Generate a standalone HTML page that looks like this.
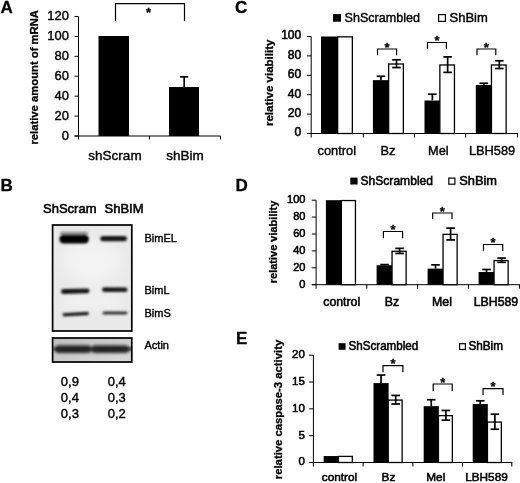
<!DOCTYPE html>
<html><head><meta charset="utf-8"><title>Figure</title>
<style>
html,body{margin:0;padding:0;background:#fff;}
body{width:520px;height:483px;overflow:hidden;}
svg{display:block;}
svg text{font-family:"Liberation Sans",sans-serif;fill:#000;stroke:#000;stroke-width:0.3px;}
svg text.tk{stroke-width:0.55px;}
svg text.ct{stroke-width:0.4px;}
svg text.hv{stroke-width:0.55px;}
</style></head><body>
<svg width="520" height="483" viewBox="0 0 520 483">
<defs>
<filter id="blur1" x="-5%" y="-5%" width="110%" height="110%"><feGaussianBlur stdDeviation="0.4"/></filter>
<filter id="blur2" x="-20%" y="-50%" width="140%" height="200%"><feGaussianBlur stdDeviation="1.1"/></filter>
<clipPath id="actclip"><rect x="52.6" y="338" width="79.2" height="24"/></clipPath>
<filter id="blur3" x="-30%" y="-30%" width="160%" height="160%"><feGaussianBlur stdDeviation="6"/></filter>
<filter id="blur4" x="-20%" y="-100%" width="140%" height="300%"><feGaussianBlur stdDeviation="1.5"/></filter>
<linearGradient id="actbg" x1="0" y1="0" x2="1" y2="1"><stop offset="0" stop-color="#bdbdbd"/><stop offset="1" stop-color="#dadada"/></linearGradient>
<filter id="soft" x="0" y="0" width="100%" height="100%"><feGaussianBlur stdDeviation="0.35"/></filter>
</defs>
<rect width="520" height="483" fill="#fff"/>
<g filter="url(#soft)">
<text x="0.5" y="12.5" font-size="17" text-anchor="start" font-weight="bold" >A</text>
<text x="0.5" y="190.5" font-size="17" text-anchor="start" font-weight="bold" >B</text>
<text x="235" y="12.5" font-size="17" text-anchor="start" font-weight="bold" >C</text>
<text x="235.5" y="190.5" font-size="17" text-anchor="start" font-weight="bold" >D</text>
<text x="236" y="344" font-size="17" text-anchor="start" font-weight="bold" >E</text>
<line x1="78.5" y1="16.5" x2="78.5" y2="139.5" stroke="#000" stroke-width="1"/>
<line x1="74.5" y1="136" x2="220.5" y2="136" stroke="#000" stroke-width="1"/>
<line x1="74.5" y1="136.0" x2="78.5" y2="136.0" stroke="#000" stroke-width="1"/>
<text x="69" y="139.9" font-size="13" text-anchor="end" class="ct">0</text>
<line x1="74.5" y1="116.08" x2="78.5" y2="116.08" stroke="#000" stroke-width="1"/>
<text x="69" y="119.98" font-size="13" text-anchor="end" class="ct">20</text>
<line x1="74.5" y1="96.16" x2="78.5" y2="96.16" stroke="#000" stroke-width="1"/>
<text x="69" y="100.06" font-size="13" text-anchor="end" class="ct">40</text>
<line x1="74.5" y1="76.24" x2="78.5" y2="76.24" stroke="#000" stroke-width="1"/>
<text x="69" y="80.14" font-size="13" text-anchor="end" class="ct">60</text>
<line x1="74.5" y1="56.31999999999999" x2="78.5" y2="56.31999999999999" stroke="#000" stroke-width="1"/>
<text x="69" y="60.21999999999999" font-size="13" text-anchor="end" class="ct">80</text>
<line x1="74.5" y1="36.39999999999999" x2="78.5" y2="36.39999999999999" stroke="#000" stroke-width="1"/>
<text x="69" y="40.29999999999999" font-size="13" text-anchor="end" class="ct">100</text>
<line x1="74.5" y1="16.47999999999999" x2="78.5" y2="16.47999999999999" stroke="#000" stroke-width="1"/>
<text x="69" y="20.37999999999999" font-size="13" text-anchor="end" class="ct">120</text>
<line x1="149.5" y1="136" x2="149.5" y2="139.5" stroke="#000" stroke-width="1"/>
<line x1="220.5" y1="136" x2="220.5" y2="139.5" stroke="#000" stroke-width="1"/>
<rect x="98.5" y="36" width="30.5" height="100" fill="#000"/>
<rect x="169" y="87" width="30" height="49" fill="#000"/>
<line x1="184.2" y1="76.8" x2="184.2" y2="88" stroke="#000" stroke-width="1.7"/>
<line x1="180" y1="76.8" x2="188.2" y2="76.8" stroke="#000" stroke-width="1.7"/>
<polyline points="115.5,21 115.5,3.6 184.5,3.6 184.5,21" fill="none" stroke="#000" stroke-width="1.2"/>
<text x="148.6" y="17.08" font-size="13" text-anchor="middle" font-weight="bold" >*</text>
<text x="115" y="160" font-size="13.5" text-anchor="middle" class="ct">shScram</text>
<text x="185" y="160" font-size="13.5" text-anchor="middle" class="ct">shBim</text>
<text transform="translate(37.7,77.3) rotate(-90)" font-size="10.5" font-weight="bold" text-anchor="middle" textLength="134.5" lengthAdjust="spacingAndGlyphs">relative amount of mRNA</text>
<text x="43" y="213" font-size="13" text-anchor="start" class="hv">ShScram</text>
<text x="104.5" y="213" font-size="13" text-anchor="start" class="hv">ShBIM</text>
<rect x="52.6" y="225" width="79.2" height="106" fill="#e9e9e9"/>
<g filter="url(#blur3)">
<ellipse cx="92" cy="262" rx="30" ry="22" fill="#f3f3f3"/>
<ellipse cx="92" cy="302" rx="30" ry="10" fill="#f1f1f1"/>
</g>
<g filter="url(#blur2)">
<rect x="60" y="231.5" width="28" height="4" rx="2" fill="#9a9a9a"/>
<rect x="59.3" y="234.4" width="29.6" height="9.2" rx="4.6" ry="4.6" fill="#000" transform="rotate(0 74.1 239.0)"/>
<rect x="100.3" y="235.9" width="26.6" height="5.4" rx="2.7" ry="2.7" fill="#141414" transform="rotate(0 113.6 238.6)"/>
<rect x="61" y="288.8" width="28.5" height="4.8" rx="2.4" ry="2.4" fill="#151515" transform="rotate(-1.5 75.25 291.2)"/>
<rect x="102" y="287.4" width="25.5" height="4.6" rx="2.3" ry="2.3" fill="#1a1a1a" transform="rotate(0.5 114.75 289.7)"/>
<rect x="62.5" y="312.3" width="26.5" height="3.5" rx="1.75" ry="1.75" fill="#222" transform="rotate(-3 75.75 314.05)"/>
<rect x="102.5" y="311.5" width="25" height="3.0" rx="1.5" ry="1.5" fill="#333" transform="rotate(0 115.0 313.0)"/>
</g>
<rect x="52.6" y="225" width="79.2" height="106" fill="none" stroke="#000" stroke-width="1.7"/>
<rect x="52.6" y="338" width="79.2" height="24" fill="url(#actbg)"/>
<g filter="url(#blur4)" clip-path="url(#actclip)">
<rect x="55" y="345.6" width="36.5" height="7.2" rx="3.6" ry="3.6" fill="#080808" transform="rotate(0 73.25 349.20000000000005)"/>
<rect x="91.5" y="345.6" width="37.5" height="7.2" rx="3.6" ry="3.6" fill="#080808" transform="rotate(0 110.25 349.20000000000005)"/>
<rect x="53" y="347.2" width="79" height="3.6" fill="#2a2a2a"/>
</g>
<rect x="52.6" y="338" width="79.2" height="24" fill="none" stroke="#000" stroke-width="1.7"/>
<text x="144.5" y="242" font-size="11" text-anchor="start" class="ct">BimEL</text>
<text x="144.5" y="294" font-size="11" text-anchor="start" class="ct">BimL</text>
<text x="144.5" y="317" font-size="11" text-anchor="start" class="ct">BimS</text>
<text x="144.5" y="349" font-size="11" text-anchor="start" class="ct">Actin</text>
<text x="60.8" y="385.5" font-size="13" text-anchor="start" class="ct">0,9</text>
<text x="107.7" y="385.5" font-size="13" text-anchor="start" class="ct">0,4</text>
<text x="60.8" y="401.9" font-size="13" text-anchor="start" class="ct">0,4</text>
<text x="107.7" y="401.9" font-size="13" text-anchor="start" class="ct">0,3</text>
<text x="60.8" y="418.3" font-size="13" text-anchor="start" class="ct">0,3</text>
<text x="107.7" y="418.3" font-size="13" text-anchor="start" class="ct">0,2</text>
<line x1="311.2" y1="36.5" x2="311.2" y2="137.5" stroke="#000" stroke-width="1"/>
<line x1="306.9" y1="133.5" x2="518" y2="133.5" stroke="#000" stroke-width="1"/>
<line x1="306.9" y1="133.5" x2="311.2" y2="133.5" stroke="#000" stroke-width="1"/>
<text x="301.2" y="136.4" font-size="12" text-anchor="end" class="tk">0</text>
<line x1="306.9" y1="114.1" x2="311.2" y2="114.1" stroke="#000" stroke-width="1"/>
<text x="301.2" y="117.0" font-size="12" text-anchor="end" class="tk">20</text>
<line x1="306.9" y1="94.7" x2="311.2" y2="94.7" stroke="#000" stroke-width="1"/>
<text x="301.2" y="97.6" font-size="12" text-anchor="end" class="tk">40</text>
<line x1="306.9" y1="75.30000000000001" x2="311.2" y2="75.30000000000001" stroke="#000" stroke-width="1"/>
<text x="301.2" y="78.2" font-size="12" text-anchor="end" class="tk">60</text>
<line x1="306.9" y1="55.900000000000006" x2="311.2" y2="55.900000000000006" stroke="#000" stroke-width="1"/>
<text x="301.2" y="58.8" font-size="12" text-anchor="end" class="tk">80</text>
<line x1="306.9" y1="36.5" x2="311.2" y2="36.5" stroke="#000" stroke-width="1"/>
<text x="301.2" y="39.4" font-size="12" text-anchor="end" class="tk">100</text>
<line x1="363.3" y1="133.5" x2="363.3" y2="137.5" stroke="#000" stroke-width="1"/>
<line x1="414.5" y1="133.5" x2="414.5" y2="137.5" stroke="#000" stroke-width="1"/>
<line x1="465.7" y1="133.5" x2="465.7" y2="137.5" stroke="#000" stroke-width="1"/>
<line x1="517.5" y1="133.5" x2="517.5" y2="137.5" stroke="#000" stroke-width="1"/>
<rect x="321.0" y="36.5" width="17.0" height="97.0" fill="#000"/>
<rect x="337.65000000000003" y="36.85" width="14.7" height="96.64999999999999" fill="#fff" stroke="#000" stroke-width="1.3"/>
<rect x="372.9" y="80.15" width="16.1" height="53.349999999999994" fill="#000"/>
<rect x="388.65000000000003" y="64.01" width="14.7" height="69.49" fill="#fff" stroke="#000" stroke-width="1.3"/>
<line x1="380.95" y1="76.27000000000001" x2="380.95" y2="80.15" stroke="#000" stroke-width="1.7"/>
<line x1="376.65" y1="76.27000000000001" x2="385.25" y2="76.27000000000001" stroke="#000" stroke-width="1.7"/>
<line x1="396.5" y1="59.779999999999994" x2="396.5" y2="67.53999999999999" stroke="#000" stroke-width="1.7"/>
<line x1="392.2" y1="59.779999999999994" x2="400.8" y2="59.779999999999994" stroke="#000" stroke-width="1.7"/>
<line x1="392.2" y1="67.53999999999999" x2="400.8" y2="67.53999999999999" stroke="#000" stroke-width="1.7"/>
<rect x="424.5" y="100.52000000000001" width="15.7" height="32.97999999999999" fill="#000"/>
<rect x="439.85" y="64.98" width="14.6" height="68.52" fill="#fff" stroke="#000" stroke-width="1.3"/>
<line x1="432.35" y1="94.215" x2="432.35" y2="100.52000000000001" stroke="#000" stroke-width="1.7"/>
<line x1="428.05" y1="94.215" x2="436.65000000000003" y2="94.215" stroke="#000" stroke-width="1.7"/>
<line x1="447.65" y1="56.87" x2="447.65" y2="72.39" stroke="#000" stroke-width="1.7"/>
<line x1="443.34999999999997" y1="56.87" x2="451.95" y2="56.87" stroke="#000" stroke-width="1.7"/>
<line x1="443.34999999999997" y1="72.39" x2="451.95" y2="72.39" stroke="#000" stroke-width="1.7"/>
<rect x="475.8" y="85.0" width="16.0" height="48.5" fill="#000"/>
<rect x="491.45000000000005" y="64.98" width="14.7" height="68.52" fill="#fff" stroke="#000" stroke-width="1.3"/>
<line x1="483.8" y1="83.254" x2="483.8" y2="85.0" stroke="#000" stroke-width="1.7"/>
<line x1="479.5" y1="83.254" x2="488.1" y2="83.254" stroke="#000" stroke-width="1.7"/>
<line x1="499.3" y1="60.74999999999999" x2="499.3" y2="68.50999999999999" stroke="#000" stroke-width="1.7"/>
<line x1="495.0" y1="60.74999999999999" x2="503.6" y2="60.74999999999999" stroke="#000" stroke-width="1.7"/>
<line x1="495.0" y1="68.50999999999999" x2="503.6" y2="68.50999999999999" stroke="#000" stroke-width="1.7"/>
<polyline points="377.5,55.2 377.5,49 396.6,49 396.6,55.2" fill="none" stroke="#000" stroke-width="1.2"/>
<text x="387.05" y="51.68" font-size="13" text-anchor="middle" font-weight="bold" >*</text>
<polyline points="427.5,48.9 427.5,42.5 446.4,42.5 446.4,48.9" fill="none" stroke="#000" stroke-width="1.2"/>
<text x="436.95" y="45.18" font-size="13" text-anchor="middle" font-weight="bold" >*</text>
<polyline points="477,55.2 477,49 495.8,49 495.8,55.2" fill="none" stroke="#000" stroke-width="1.2"/>
<text x="486.4" y="51.68" font-size="13" text-anchor="middle" font-weight="bold" >*</text>
<rect x="333" y="14.1" width="8.0" height="7.6" fill="#000"/>
<text x="344.5" y="21.7" font-size="13" text-anchor="start" textLength="75.5" lengthAdjust="spacingAndGlyphs" class="ct">ShScrambled</text>
<rect x="438.6" y="14.6" width="6.8" height="6.8" fill="#fff" stroke="#000" stroke-width="1.2"/>
<text x="449.5" y="21.7" font-size="13" text-anchor="start" class="ct">ShBim</text>
<text x="336.8" y="154.8" font-size="12.8" text-anchor="middle" class="ct">control</text>
<text x="388" y="154.8" font-size="12.8" text-anchor="middle" class="ct">Bz</text>
<text x="438.4" y="154.8" font-size="12.8" text-anchor="middle" class="ct">Mel</text>
<text x="492.1" y="154.8" font-size="12.8" text-anchor="middle" class="ct">LBH589</text>
<text transform="translate(272.5,82.8) rotate(-90)" font-size="11" font-weight="bold" text-anchor="middle" textLength="86.5" lengthAdjust="spacingAndGlyphs">relative viability</text>
<line x1="316.1" y1="200.2" x2="316.1" y2="288.7" stroke="#000" stroke-width="1"/>
<line x1="311.8" y1="284.7" x2="520" y2="284.7" stroke="#000" stroke-width="1"/>
<line x1="311.8" y1="284.7" x2="316.1" y2="284.7" stroke="#000" stroke-width="1"/>
<text x="305.4" y="287.5" font-size="11" text-anchor="end" class="tk">0</text>
<line x1="311.8" y1="267.8" x2="316.1" y2="267.8" stroke="#000" stroke-width="1"/>
<text x="305.4" y="270.6" font-size="11" text-anchor="end" class="tk">20</text>
<line x1="311.8" y1="250.89999999999998" x2="316.1" y2="250.89999999999998" stroke="#000" stroke-width="1"/>
<text x="305.4" y="253.7" font-size="11" text-anchor="end" class="tk">40</text>
<line x1="311.8" y1="234.0" x2="316.1" y2="234.0" stroke="#000" stroke-width="1"/>
<text x="305.4" y="236.8" font-size="11" text-anchor="end" class="tk">60</text>
<line x1="311.8" y1="217.1" x2="316.1" y2="217.1" stroke="#000" stroke-width="1"/>
<text x="305.4" y="219.9" font-size="11" text-anchor="end" class="tk">80</text>
<line x1="311.8" y1="200.2" x2="316.1" y2="200.2" stroke="#000" stroke-width="1"/>
<text x="305.4" y="203.0" font-size="11" text-anchor="end" class="tk">100</text>
<line x1="366.8" y1="284.7" x2="366.8" y2="288.7" stroke="#000" stroke-width="1"/>
<line x1="417.6" y1="284.7" x2="417.6" y2="288.7" stroke="#000" stroke-width="1"/>
<line x1="468.4" y1="284.7" x2="468.4" y2="288.7" stroke="#000" stroke-width="1"/>
<line x1="519.4" y1="284.7" x2="519.4" y2="288.7" stroke="#000" stroke-width="1"/>
<rect x="325.9" y="200.2" width="15.8" height="84.5" fill="#000"/>
<rect x="341.35" y="200.54999999999998" width="14.1" height="84.14999999999999" fill="#fff" stroke="#000" stroke-width="1.3"/>
<rect x="376.6" y="265.265" width="15.8" height="19.435000000000002" fill="#000"/>
<rect x="392.05000000000007" y="251.24999999999997" width="14.1" height="33.45000000000001" fill="#fff" stroke="#000" stroke-width="1.3"/>
<line x1="384.5" y1="264.589" x2="384.5" y2="265.265" stroke="#000" stroke-width="1.7"/>
<line x1="380.2" y1="264.589" x2="388.8" y2="264.589" stroke="#000" stroke-width="1.7"/>
<line x1="399.6" y1="248.36499999999998" x2="399.6" y2="253.43499999999997" stroke="#000" stroke-width="1.7"/>
<line x1="395.3" y1="248.36499999999998" x2="403.90000000000003" y2="248.36499999999998" stroke="#000" stroke-width="1.7"/>
<line x1="395.3" y1="253.43499999999997" x2="403.90000000000003" y2="253.43499999999997" stroke="#000" stroke-width="1.7"/>
<rect x="427.6" y="268.645" width="15.8" height="16.055000000000007" fill="#000"/>
<rect x="443.05000000000007" y="234.35" width="14.1" height="50.34999999999999" fill="#fff" stroke="#000" stroke-width="1.3"/>
<line x1="435.5" y1="264.8425" x2="435.5" y2="268.645" stroke="#000" stroke-width="1.7"/>
<line x1="431.2" y1="264.8425" x2="439.8" y2="264.8425" stroke="#000" stroke-width="1.7"/>
<line x1="450.6" y1="228.085" x2="450.6" y2="239.915" stroke="#000" stroke-width="1.7"/>
<line x1="446.3" y1="228.085" x2="454.90000000000003" y2="228.085" stroke="#000" stroke-width="1.7"/>
<line x1="446.3" y1="239.915" x2="454.90000000000003" y2="239.915" stroke="#000" stroke-width="1.7"/>
<rect x="478.6" y="272.025" width="15.8" height="12.675000000000011" fill="#000"/>
<rect x="494.05000000000007" y="260.54499999999996" width="14.1" height="24.154999999999998" fill="#fff" stroke="#000" stroke-width="1.3"/>
<line x1="486.5" y1="269.48999999999995" x2="486.5" y2="272.025" stroke="#000" stroke-width="1.7"/>
<line x1="482.2" y1="269.48999999999995" x2="490.8" y2="269.48999999999995" stroke="#000" stroke-width="1.7"/>
<line x1="501.6" y1="258.0825" x2="501.6" y2="262.3075" stroke="#000" stroke-width="1.7"/>
<line x1="497.3" y1="258.0825" x2="505.90000000000003" y2="258.0825" stroke="#000" stroke-width="1.7"/>
<line x1="497.3" y1="262.3075" x2="505.90000000000003" y2="262.3075" stroke="#000" stroke-width="1.7"/>
<polyline points="383.4,238.3 383.4,231.5 402.6,231.5 402.6,238.3" fill="none" stroke="#000" stroke-width="1.2"/>
<text x="393.0" y="234.18" font-size="13" text-anchor="middle" font-weight="bold" >*</text>
<polyline points="432.7,219 432.7,213 452,213 452,219" fill="none" stroke="#000" stroke-width="1.2"/>
<text x="442.35" y="215.68" font-size="13" text-anchor="middle" font-weight="bold" >*</text>
<polyline points="483.5,251 483.5,244.5 502.7,244.5 502.7,251" fill="none" stroke="#000" stroke-width="1.2"/>
<text x="493.1" y="247.18" font-size="13" text-anchor="middle" font-weight="bold" >*</text>
<rect x="350.3" y="177.6" width="7.3" height="6.8999999999999995" fill="#000"/>
<text x="360.5" y="184.5" font-size="12.5" text-anchor="start" textLength="72.5" lengthAdjust="spacingAndGlyphs" class="hv">ShScrambled</text>
<rect x="448.8" y="178.1" width="6.1" height="6.1" fill="#fff" stroke="#000" stroke-width="1.2"/>
<text x="459.3" y="184.5" font-size="12.5" text-anchor="start" textLength="37.7" lengthAdjust="spacingAndGlyphs" class="hv">ShBim</text>
<text x="341.7" y="305.5" font-size="12.3" text-anchor="middle" class="hv">control</text>
<text x="392" y="305.5" font-size="12.3" text-anchor="middle" class="hv">Bz</text>
<text x="442" y="305.5" font-size="12.3" text-anchor="middle" class="hv">Mel</text>
<text x="496" y="305.5" font-size="12.3" text-anchor="middle" class="hv">LBH589</text>
<text transform="translate(276.5,242) rotate(-90)" font-size="11" font-weight="bold" text-anchor="middle">relative viability</text>
<line x1="313.4" y1="355.2" x2="313.4" y2="466.5" stroke="#000" stroke-width="1"/>
<line x1="309.09999999999997" y1="462.5" x2="512.3" y2="462.5" stroke="#000" stroke-width="1"/>
<line x1="309.09999999999997" y1="462.5" x2="313.4" y2="462.5" stroke="#000" stroke-width="1"/>
<text x="304.8" y="465.4" font-size="11.5" text-anchor="end" class="tk">0</text>
<line x1="309.09999999999997" y1="435.675" x2="313.4" y2="435.675" stroke="#000" stroke-width="1"/>
<text x="304.8" y="438.57" font-size="11.5" text-anchor="end" class="tk">5</text>
<line x1="309.09999999999997" y1="408.85" x2="313.4" y2="408.85" stroke="#000" stroke-width="1"/>
<text x="304.8" y="411.75" font-size="11.5" text-anchor="end" class="tk">10</text>
<line x1="309.09999999999997" y1="382.025" x2="313.4" y2="382.025" stroke="#000" stroke-width="1"/>
<text x="304.8" y="384.92" font-size="11.5" text-anchor="end" class="tk">15</text>
<line x1="309.09999999999997" y1="355.2" x2="313.4" y2="355.2" stroke="#000" stroke-width="1"/>
<text x="304.8" y="358.1" font-size="11.5" text-anchor="end" class="tk">20</text>
<line x1="363.1" y1="462.5" x2="363.1" y2="466.5" stroke="#000" stroke-width="1"/>
<line x1="412.9" y1="462.5" x2="412.9" y2="466.5" stroke="#000" stroke-width="1"/>
<line x1="462.5" y1="462.5" x2="462.5" y2="466.5" stroke="#000" stroke-width="1"/>
<line x1="511.8" y1="462.5" x2="511.8" y2="466.5" stroke="#000" stroke-width="1"/>
<rect x="323.7" y="456.062" width="15.1" height="6.437999999999988" fill="#000"/>
<rect x="338.45000000000005" y="456.412" width="13.899999999999999" height="6.087999999999988" fill="#fff" stroke="#000" stroke-width="1.3"/>
<rect x="373.5" y="383.098" width="15.1" height="79.40199999999999" fill="#000"/>
<rect x="388.25000000000006" y="400.0795" width="13.899999999999999" height="62.42049999999997" fill="#fff" stroke="#000" stroke-width="1.3"/>
<line x1="381.05" y1="375.0505" x2="381.05" y2="383.098" stroke="#000" stroke-width="1.7"/>
<line x1="376.75" y1="375.0505" x2="385.35" y2="375.0505" stroke="#000" stroke-width="1.7"/>
<line x1="395.70000000000005" y1="395.43750000000006" x2="395.70000000000005" y2="404.0215" stroke="#000" stroke-width="1.7"/>
<line x1="391.40000000000003" y1="395.43750000000006" x2="400.00000000000006" y2="395.43750000000006" stroke="#000" stroke-width="1.7"/>
<line x1="391.40000000000003" y1="404.0215" x2="400.00000000000006" y2="404.0215" stroke="#000" stroke-width="1.7"/>
<rect x="423.7" y="406.1675" width="15.1" height="56.33249999999998" fill="#000"/>
<rect x="438.45000000000005" y="415.638" width="13.899999999999999" height="46.86199999999999" fill="#fff" stroke="#000" stroke-width="1.3"/>
<line x1="431.25" y1="399.72950000000003" x2="431.25" y2="406.1675" stroke="#000" stroke-width="1.7"/>
<line x1="426.95" y1="399.72950000000003" x2="435.55" y2="399.72950000000003" stroke="#000" stroke-width="1.7"/>
<line x1="445.90000000000003" y1="410.4595" x2="445.90000000000003" y2="420.11650000000003" stroke="#000" stroke-width="1.7"/>
<line x1="441.6" y1="410.4595" x2="450.20000000000005" y2="410.4595" stroke="#000" stroke-width="1.7"/>
<line x1="441.6" y1="420.11650000000003" x2="450.20000000000005" y2="420.11650000000003" stroke="#000" stroke-width="1.7"/>
<rect x="472.7" y="404.0215" width="15.1" height="58.4785" fill="#000"/>
<rect x="487.45000000000005" y="422.07599999999996" width="13.899999999999999" height="40.424" fill="#fff" stroke="#000" stroke-width="1.3"/>
<line x1="480.25" y1="400.8025" x2="480.25" y2="404.0215" stroke="#000" stroke-width="1.7"/>
<line x1="475.95" y1="400.8025" x2="484.55" y2="400.8025" stroke="#000" stroke-width="1.7"/>
<line x1="494.90000000000003" y1="414.215" x2="494.90000000000003" y2="429.237" stroke="#000" stroke-width="1.7"/>
<line x1="490.6" y1="414.215" x2="499.20000000000005" y2="414.215" stroke="#000" stroke-width="1.7"/>
<line x1="490.6" y1="429.237" x2="499.20000000000005" y2="429.237" stroke="#000" stroke-width="1.7"/>
<polyline points="383,372.3 383,365.6 402.9,365.6 402.9,372.3" fill="none" stroke="#000" stroke-width="1.2"/>
<text x="392.95" y="368.28" font-size="13" text-anchor="middle" font-weight="bold" >*</text>
<polyline points="433.2,391 433.2,384.0 452.2,384.0 452.2,391" fill="none" stroke="#000" stroke-width="1.2"/>
<text x="442.7" y="386.68" font-size="13" text-anchor="middle" font-weight="bold" >*</text>
<polyline points="483,395 483,388.6 503,388.6 503,395" fill="none" stroke="#000" stroke-width="1.2"/>
<text x="493.0" y="391.28" font-size="13" text-anchor="middle" font-weight="bold" >*</text>
<rect x="338.6" y="343.2" width="7.0" height="6.6" fill="#000"/>
<text x="348.5" y="349.8" font-size="12" text-anchor="start" textLength="69.8" lengthAdjust="spacingAndGlyphs" class="hv">ShScrambled</text>
<rect x="459.6" y="343.7" width="5.8" height="5.8" fill="#fff" stroke="#000" stroke-width="1.2"/>
<text x="468.4" y="349.8" font-size="12" text-anchor="start" textLength="34.6" lengthAdjust="spacingAndGlyphs" class="hv">ShBim</text>
<text x="339.5" y="480.6" font-size="11.8" text-anchor="middle" class="hv">control</text>
<text x="388.5" y="480.6" font-size="11.8" text-anchor="middle" class="hv">Bz</text>
<text x="435.8" y="480.6" font-size="11.8" text-anchor="middle" class="hv">Mel</text>
<text x="486.5" y="480.6" font-size="11.8" text-anchor="middle" class="hv">LBH589</text>
<text transform="translate(281.7,409.5) rotate(-90)" font-size="11.3" font-weight="bold" text-anchor="middle">relative caspase-3 activity</text>
</g>
</svg>
</body></html>
